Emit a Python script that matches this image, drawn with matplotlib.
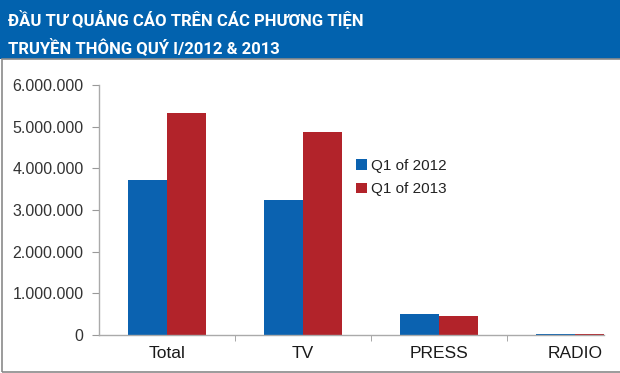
import matplotlib
matplotlib.use("Agg")
import matplotlib.pyplot as plt
from matplotlib.patches import Rectangle
import numpy as np

categories = ["Total", "TV", "PRESS", "RADIO"]
q1_2012 = [3720000, 3240000, 500000, 20000]
q1_2013 = [5335000, 4880000, 460000, 20000]
series_labels = ["Q1 of 2012", "Q1 of 2013"]
yticks = [0, 1000000, 2000000, 3000000, 4000000, 5000000, 6000000]
title_lines = ["ĐẦU TƯ QUẢNG CÁO TRÊN CÁC PHƯƠNG TIỆN", "TRUYỀN THÔNG QUÝ I/2012 & 2013"]

W, H = 620, 373
fig = plt.figure(figsize=(W / 100, H / 100), dpi=100)
fig.patch.set_facecolor("white")

# banner
fig.patches.append(Rectangle((0, 1 - 59 / H), 1, 59 / H, transform=fig.transFigure,
                             facecolor="#0262AE", edgecolor="none", zorder=0))
# border box
fig.patches.append(Rectangle((2 / W, 1 / H), 1.2, 1 - 60 / H, transform=fig.transFigure,
                             facecolor="none", edgecolor="#8a8a8a", linewidth=1.2, zorder=0))

for i, line in enumerate(title_lines):
    fig.text(8 / W, 1 - (19 + 28 * i) / H, line, color="white", fontsize=12,
             fontweight="bold", family=["Roboto", "DejaVu Sans"],
             va="center", ha="left")

ax = fig.add_axes([99 / W, 1 - 335 / H, (604 - 99) / W, (335 - 85) / H])
x = np.arange(len(categories))
bw = 0.287
blue = "#0B62B0"
red = "#B2232A"
ax.bar(x - bw / 2, q1_2012, bw, color=blue, label=series_labels[0])
ax.bar(x + bw / 2, q1_2013, bw, color=red, label=series_labels[1])

ax.set_xlim(-0.5, 3.5 - 39 / 136)
ax.set_ylim(0, 6000000)
ax.set_yticks(yticks)
ax.set_yticklabels([f"{v:,}".replace(",", ".") for v in yticks],
                   fontsize=11.5, color="#333333", family="Liberation Sans")
ax.set_xticks(x)
ax.set_xticklabels(categories, fontsize=12.5, color="#1a1a1a", family="Liberation Sans")
ax.set_xticks(np.arange(0.5, 3.5, 1), minor=True)
ax.tick_params(axis="x", which="major", length=0, pad=8)
ax.tick_params(axis="x", which="minor", length=4, color="#999999")
ax.tick_params(axis="y", length=5, color="#999999", pad=6)
for s in ["top", "right"]:
    ax.spines[s].set_visible(False)
for s in ["left", "bottom"]:
    ax.spines[s].set_color("#aaaaaa")
    ax.spines[s].set_linewidth(1.0)

leg = ax.legend(loc="upper left", bbox_to_anchor=((350 - 99) / (604 - 99), (335 - 153) / 250),
                frameon=False, prop={"family": "Liberation Sans", "size": 11},
                handlelength=0.7, handleheight=0.7, handletextpad=0.3, labelspacing=0.6,
                borderaxespad=0)
for t in leg.get_texts():
    t.set_color("#222222")

fig.savefig("out.png", dpi=100)
